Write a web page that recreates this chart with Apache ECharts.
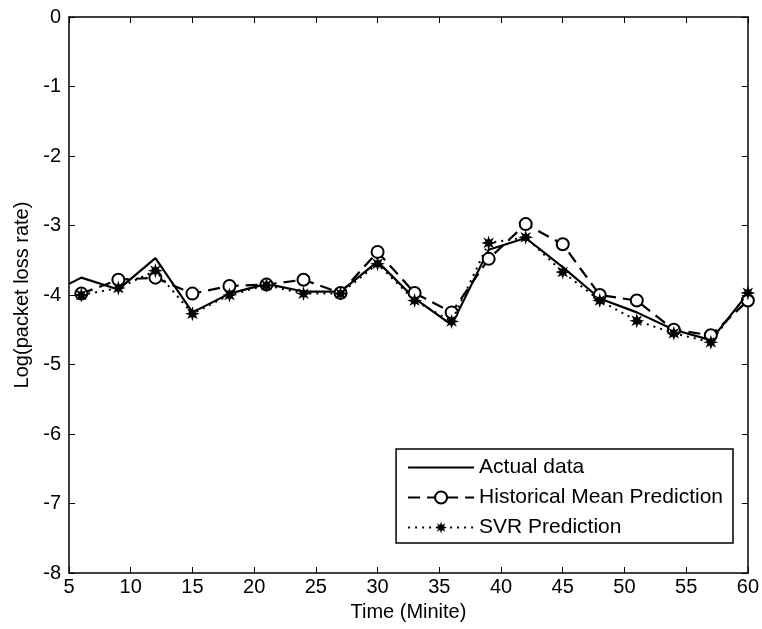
<!DOCTYPE html>
<html>
<head>
<meta charset="utf-8">
<script src="https://cdn.jsdelivr.net/npm/echarts@6/dist/echarts.min.js"></script>
<style>
  html, body { margin: 0; padding: 0; background: #fff; }
  #chart { width: 762px; height: 629px; }
</style>
</head>
<body>
<div id="chart"></div>
<script>
// Measured packet loss (log scale) and two predictors, sampled over time in minutes
const actualTime = [5, 6, 9, 12, 15, 18, 21, 24, 27, 30, 33, 36, 39, 42, 45, 48, 51, 54, 57, 60];
const actualData = [-3.84, -3.75, -3.92, -3.47, -4.25, -3.98, -3.84, -3.95, -3.95, -3.52, -4.05, -4.43, -3.35, -3.18, -3.6, -4.05, -4.25, -4.5, -4.65, -3.98];

const predTime = [6, 9, 12, 15, 18, 21, 24, 27, 30, 33, 36, 39, 42, 45, 48, 51, 54, 57, 60];
const historicalMean = [-3.98, -3.78, -3.75, -3.98, -3.87, -3.85, -3.78, -3.97, -3.38, -3.97, -4.25, -3.48, -2.98, -3.27, -4.0, -4.08, -4.5, -4.58, -4.08];
const svrPrediction = [-4.0, -3.9, -3.65, -4.27, -4.0, -3.86, -3.98, -3.98, -3.55, -4.08, -4.38, -3.25, -3.17, -3.67, -4.08, -4.37, -4.55, -4.68, -3.97];

const xTicks = [5, 10, 15, 20, 25, 30, 35, 40, 45, 50, 55, 60];
const yTicks = [0, -1, -2, -3, -4, -5, -6, -7, -8];

// Eight-pointed filled star used as the SVR marker
function starPath() {
  const pts = [];
  for (let i = 0; i < 16; i++) {
    const a = -Math.PI / 2 + i * Math.PI / 8;
    const r = i % 2 === 0 ? 10 : 4.6;
    pts.push((10 + r * Math.cos(a)).toFixed(2) + ',' + (10 + r * Math.sin(a)).toFixed(2));
  }
  return 'path://M' + pts.join('L') + 'Z';
}

const pair = (xs, ys) => xs.map((x, i) => [x, ys[i]]);
const FONT = 'Liberation Sans, Arial, sans-serif';

const chart = echarts.init(document.getElementById('chart'), null, { renderer: 'canvas' });

const axisCommon = {
  axisLine: { show: true, onZero: false, lineStyle: { color: '#000', width: 1.5 } },
  axisTick: { show: true, inside: true, length: 6, lineStyle: { color: '#000', width: 1 } },
  splitLine: { show: false }
};

chart.setOption({
  animation: false,
  backgroundColor: '#fff',
  grid: { left: 69, right: 11, top: 17, bottom: 56, containLabel: false },
  xAxis: [
    Object.assign({
      type: 'value', min: 5, max: 60, interval: 5, position: 'bottom',
      name: 'Time (Minite)', nameLocation: 'middle', nameGap: 29,
      nameTextStyle: { color: '#000', fontSize: 20, fontFamily: FONT },
      axisLabel: {
        color: '#000', fontSize: 20, fontFamily: FONT, margin: 4,
        formatter: v => xTicks.includes(v) ? String(v) : ''
      }
    }, axisCommon),
    Object.assign({
      type: 'value', min: 5, max: 60, interval: 5, position: 'top',
      axisLabel: { show: false }
    }, axisCommon)
  ],
  yAxis: [
    Object.assign({
      type: 'value', min: -8, max: 0, interval: 1, position: 'left',
      name: 'Log(packet loss rate)', nameLocation: 'middle', nameGap: 36,
      nameTextStyle: { color: '#000', fontSize: 20, fontFamily: FONT },
      axisLabel: {
        color: '#000', fontSize: 20, fontFamily: FONT, margin: 8,
        formatter: v => yTicks.includes(v) ? String(v) : ''
      }
    }, axisCommon),
    Object.assign({
      type: 'value', min: -8, max: 0, interval: 1, position: 'right',
      axisLabel: { show: false }
    }, axisCommon)
  ],
  legend: {
    orient: 'vertical',
    right: 29, bottom: 86,
    backgroundColor: '#fff',
    borderColor: '#000', borderWidth: 1.5, borderRadius: 0,
    padding: [8, 10, 5, 11],
    itemGap: 9,
    itemWidth: 66, itemHeight: 15,
    textStyle: { color: '#000', fontSize: 21, fontFamily: FONT },
    data: [
      { name: 'Actual data', itemStyle: { opacity: 0 } },
      'Historical Mean Prediction',
      'SVR Prediction'
    ]
  },
  series: [
    {
      name: 'Actual data', type: 'line',
      data: pair(actualTime, actualData),
      showSymbol: false, symbol: 'none',
      lineStyle: { color: '#000', width: 2.2, type: 'solid' },
      itemStyle: { color: '#000' },
      z: 3
    },
    {
      name: 'Historical Mean Prediction', type: 'line',
      data: pair(predTime, historicalMean),
      symbol: 'circle', symbolSize: 12,
      lineStyle: { color: '#000', width: 2.2, type: [12, 7] },
      itemStyle: { color: '#fff', borderColor: '#000', borderWidth: 2 },
      z: 4
    },
    {
      name: 'SVR Prediction', type: 'line',
      data: pair(predTime, svrPrediction),
      symbol: starPath(), symbolSize: 15,
      lineStyle: { color: '#000', width: 2, type: [2, 5] },
      itemStyle: { color: '#000' },
      z: 5
    }
  ]
});
</script>
</body>
</html>
